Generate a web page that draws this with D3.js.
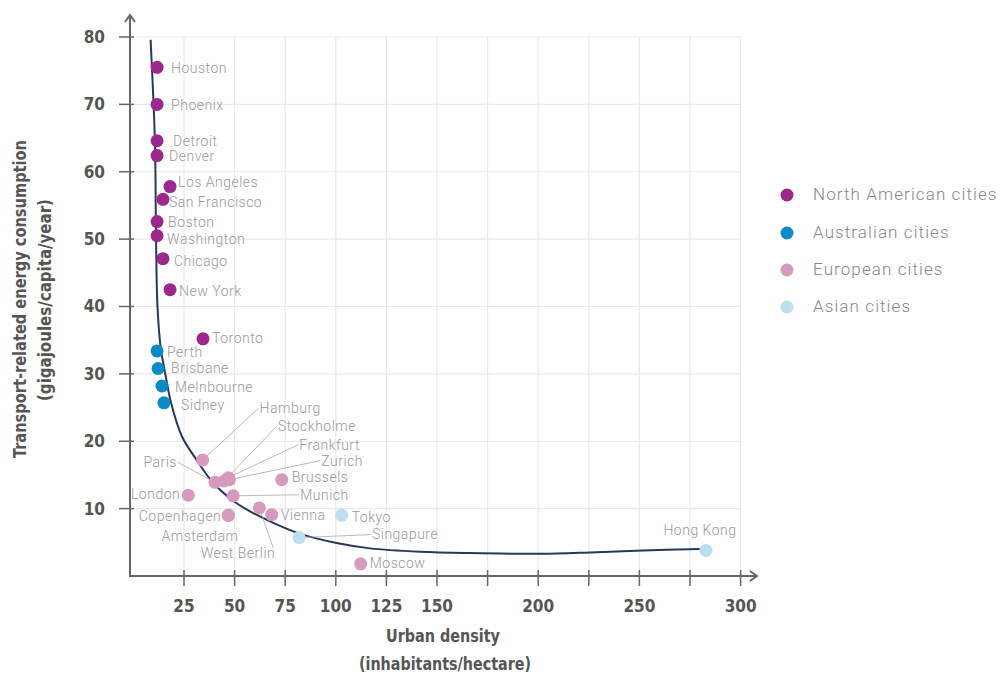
<!DOCTYPE html>
<html><head><meta charset="utf-8">
<script src="https://cdn.jsdelivr.net/npm/d3@7"></script>
<style>
html,body{margin:0;padding:0;background:#fff;}
svg{display:block;}
.tick-label{font-family:"Liberation Sans Narrow","DejaVu Sans Condensed",sans-serif;font-weight:bold;fill:#555;font-size:17px;}
.title{font-family:"Liberation Sans Narrow","DejaVu Sans Condensed",sans-serif;font-weight:bold;fill:#555;font-size:17px;}
.city{font-family:Roboto,sans-serif;font-weight:300;fill:#999;font-size:14px;letter-spacing:0.5px;}
.legend{font-family:Roboto,sans-serif;font-weight:300;fill:#888;font-size:17px;letter-spacing:1.1px;}
</style>
</head><body>
<svg id="chart" width="1000" height="673"></svg>
<script>
// ---------- data ----------
const northAmerican = [
  ["Houston",11.7,75.5],["Phoenix",11.7,70.0],["Detroit",11.7,64.6],["Denver",11.7,62.4],
  ["Los Angeles",18.1,57.8],["San Francisco",14.6,55.9],["Boston",11.7,52.6],["Washington",11.7,50.5],
  ["Chicago",14.6,47.1],["New York",18.1,42.5],["Toronto",34.4,35.2]
];
const australian = [
  ["Perth",11.7,33.4],["Brisbane",12.2,30.8],["Melnbourne",14.1,28.2],["Sidney",15.1,25.7]
];
const european = [
  ["Hamburg",34.2,17.2],["Paris",40.3,13.9],["Stockholme",44.8,14.1],["Frankfurt",46.9,14.6],
  ["Zurich",47.4,14.3],["London",27.1,12.0],["Munich",49.3,11.9],["Brussels",73.3,14.3],
  ["Copenhagen",46.9,9.0],["Amsterdam",46.9,9.0],["West Berlin",62.2,10.1],["Vienna",68.3,9.1],
  ["Moscow",112.3,1.8]
];
const asian = [
  ["Tokyo",102.9,9.0],["Singapure",81.8,5.7],["Hong Kong",282.9,3.8]
];
const trendDensity = [8.5,9.8,10.7,11.2,11.9,13.6,15.4,18.6,24.0,31.3,39.5,51.0,67.5,83.9,100.4,116.9,141.6,166.3,200.9,225.6,251.8,279.9];
const trendEnergy  = [79.6,71.2,63.8,49.9,40.0,33.6,30.6,25.7,20.7,17.2,13.8,10.8,8.1,6.1,4.9,4.1,3.6,3.4,3.3,3.5,3.8,4.0];
const xTicks = [25,50,75,100,125,150,175,200,225,250,275,300];
const xTickLabels = ["25","50","75","100","125","150","","200","","250","","300"];
const yTicks = [10,20,30,40,50,60,70,80];
const seriesNames = ["North American cities","Australian cities","European cities","Asian cities"];
const seriesColors = ["#9c288d","#0b8bc5","#d59abe","#bcdff0"];
const xTitle = ["Urban density","(inhabitants/hectare)"];
const yTitle = ["Transport-related energy consumption","(gigajoules/capita/year)"];

// label layout (pixel offsets from the point)
const labelLayout = {
  "Houston":[14,1],"Phoenix":[14,1],"Detroit":[16,0],"Denver":[12,1],"Los Angeles":[8,-4],
  "San Francisco":[6,3],"Boston":[11,0],"Washington":[10,3],"Chicago":[11,2],"New York":[9,1],
  "Toronto":[9,-1],"Perth":[10,1],"Brisbane":[13,0],"Melnbourne":[13,1],"Sidney":[17,2],
  "Hamburg":[57,-52,"start",true],"Stockholme":[54,-55,"start",true],"Frankfurt":[71,-33,"start",true],
  "Zurich":[92,-19,"start",true],"Paris":[-38,-20,"end",true],"Brussels":[10,-3],
  "Munich":[67,-1,"start",true],"London":[-8,-1,"end"],"Copenhagen":[-7,1,"end"],
  "Amsterdam":[10,21,"end"],"West Berlin":[16,45,"end",[14,40]],"Vienna":[9,0],
  "Tokyo":[10,2],"Singapure":[73,-3,"start",true],"Moscow":[9,-1],"Hong Kong":[-6,-20,"middle"]
};

// ---------- chart ----------
const svg = d3.select("#chart");
const x = d3.scaleLinear().domain([0,300]).range([133.4,740.6]);
const y = d3.scaleLinear().domain([0,80]).range([576,37]);
const axisX = 130, axisY = 576;

// grid
const grid = svg.append("g");
grid.selectAll("line.v").data(xTicks).enter().append("line")
  .attr("x1",d=>x(d)).attr("x2",d=>x(d)).attr("y1",y(80)).attr("y2",axisY)
  .attr("stroke","#e9e9e9").attr("stroke-width",1.2);
grid.selectAll("line.h").data(yTicks).enter().append("line")
  .attr("x1",axisX).attr("x2",x(300)).attr("y1",d=>y(d)).attr("y2",d=>y(d))
  .attr("stroke","#e9e9e9").attr("stroke-width",1.2);

// axes
const ax = svg.append("g").attr("stroke","#666").attr("stroke-width",2).attr("fill","none");
ax.append("line").attr("x1",axisX).attr("x2",axisX).attr("y1",axisY+1).attr("y2",15);
ax.append("path").attr("d",`M${axisX-5},${22} L${axisX},${15} L${axisX+5},${22}`);
ax.append("line").attr("x1",axisX-1).attr("x2",757).attr("y1",axisY).attr("y2",axisY);
ax.append("path").attr("d",`M750,${axisY-5} L757,${axisY} L750,${axisY+5}`);
ax.selectAll("line.yt").data(yTicks).enter().append("line")
  .attr("x1",axisX-11).attr("x2",axisX+4).attr("y1",d=>y(d)).attr("y2",d=>y(d)).attr("stroke-width",1.5);
ax.selectAll("line.xt").data(xTicks).enter().append("line")
  .attr("x1",d=>x(d)).attr("x2",d=>x(d)).attr("y1",axisY-6).attr("y2",axisY+10).attr("stroke-width",1.5);

svg.selectAll("text.yl").data(yTicks).enter().append("text").attr("class","tick-label")
  .attr("x",105).attr("y",d=>y(d)).attr("dy","0.35em").attr("text-anchor","end").text(d=>d);
svg.selectAll("text.xl").data(xTicks).enter().append("text").attr("class","tick-label")
  .attr("x",d=>x(d)).attr("y",606).attr("dy","0.35em").attr("text-anchor","middle")
  .text((d,i)=>xTickLabels[i]);

// titles
svg.append("text").attr("class","title").attr("x",443).attr("y",636).attr("dy","0.35em")
  .attr("text-anchor","middle").attr("textLength",114).attr("lengthAdjust","spacingAndGlyphs").text(xTitle[0]);
svg.append("text").attr("class","title").attr("x",445).attr("y",664).attr("dy","0.35em")
  .attr("text-anchor","middle").attr("textLength",172).attr("lengthAdjust","spacingAndGlyphs").text(xTitle[1]);
svg.append("text").attr("class","title").attr("transform","translate(20,299) rotate(-90)")
  .attr("dy","0.35em").attr("text-anchor","middle").attr("textLength",318).attr("lengthAdjust","spacingAndGlyphs").text(yTitle[0]);
svg.append("text").attr("class","title").attr("transform","translate(45,300) rotate(-90)")
  .attr("dy","0.35em").attr("text-anchor","middle").attr("textLength",202).attr("lengthAdjust","spacingAndGlyphs").text(yTitle[1]);

// trend curve
const trend = trendDensity.map((d,i)=>[d,trendEnergy[i]]);
svg.append("path").datum(trend)
  .attr("d",d3.line().x(d=>x(d[0])).y(d=>y(d[1])).curve(d3.curveCatmullRom.alpha(0.5)))
  .attr("fill","none").attr("stroke","#27385a").attr("stroke-width",2);

// points and labels
const groups = [northAmerican,australian,european,asian];
const leaders = svg.append("g").attr("stroke","#aaa").attr("stroke-width",0.8);
const dots = svg.append("g");
const labels = svg.append("g");
groups.forEach((grp,gi)=>{
  grp.forEach(([name,dx,ey])=>{
    const px = x(dx), py = y(ey);
    const L = labelLayout[name] || [10,0];
    const anchor = L[2] || "start";
    const tx = px+L[0], ty = py+L[1];
    if (L[3]) {
      let ex, eyy;
      if (Array.isArray(L[3])) { ex = px+L[3][0]; eyy = py+L[3][1]; }
      else { ex = anchor==="end" ? tx+1 : tx-1; eyy = ty; }
      leaders.append("line").attr("x1",px).attr("y1",py).attr("x2",ex).attr("y2",eyy);
    }
    dots.append("circle").attr("cx",px).attr("cy",py).attr("r",6.5).attr("fill",seriesColors[gi]);
    labels.append("text").attr("class","city").attr("x",tx).attr("y",ty).attr("dy","0.35em")
      .attr("text-anchor",anchor).text(name);
  });
});

// legend
const lg = svg.append("g");
const legendY = [194,232,269,306];
seriesNames.forEach((n,i)=>{
  lg.append("circle").attr("cx",787).attr("cy",legendY[i]+1).attr("r",6.5).attr("fill",seriesColors[i]);
  lg.append("text").attr("class","legend").attr("x",813).attr("y",legendY[i]).attr("dy","0.35em").text(n);
});
</script>
</body></html>
